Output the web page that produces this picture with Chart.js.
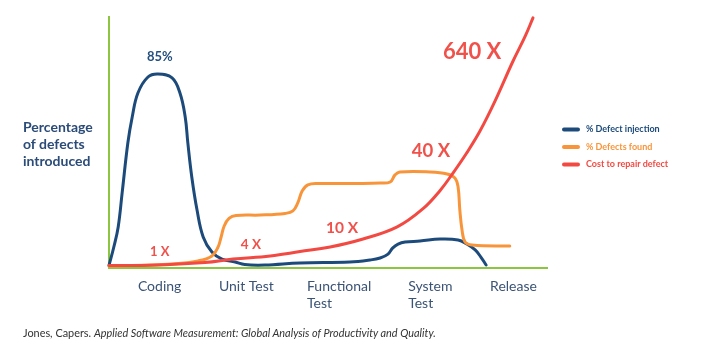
<!DOCTYPE html>
<html><head><meta charset="utf-8">
<script src="https://cdn.jsdelivr.net/npm/chart.js@4"></script>
<style>
html,body{margin:0;padding:0;background:#fff;}
#wrap{position:relative;width:708px;height:358px;overflow:hidden;font-family:Lato, "Open Sans", sans-serif;}
#chartBox{position:absolute;left:0;top:0;width:708px;height:358px;}
#ylabel{position:absolute;left:23px;top:118px;font-weight:700;font-size:14px;line-height:17px;color:#2b4b78;}
#source{position:absolute;left:23px;top:327px;font-size:10.9px;line-height:12px;color:#333;white-space:nowrap;}
</style></head><body>
<div id="wrap">
<div id="chartBox"><canvas id="c"></canvas></div>
<div id="ylabel">Percentage<br>of defects<br>introduced</div>
<div id="source">Jones, Capers. <i>Applied Software Measurement: Global Analysis of Productivity and Quality.</i></div>
</div>
<script>
// ---- data ----
const stageLabels = ['Coding', 'Unit Test', ['Functional', 'Test'], ['System', 'Test'], 'Release'];
const stagePositions = [6.6, 25.1, 45.2, 68.3, 87.0];

const seriesNames = ['% Defect injection', '% Defects found', 'Cost to repair defect'];

const injectX = [0, 1.1, 2.1, 3.0, 4.3, 5.3, 6.6, 8.9, 11.2, 14.4, 16.2, 17.4, 18.0, 18.9, 20.1, 21.5, 23.5, 25.8, 28.8, 31.0, 35.6, 43.6, 55.0, 59.6, 61.9, 63.7, 64.8, 66.0, 67.6, 71.0, 75.6, 79.7, 81.7, 83.6, 84.9, 86.1];
const injectY = [1.1, 9.2, 18.0, 32.9, 54.8, 66.2, 76.7, 83.7, 85.0, 83.3, 76.7, 66.2, 54.8, 39.9, 25.4, 13.6, 7.0, 3.9, 2.6, 1.5, 1.3, 2.2, 2.6, 3.5, 4.4, 6.1, 8.8, 10.5, 11.4, 11.8, 12.7, 12.3, 10.5, 7.9, 4.8, 1.3];

const foundX = [0, 9.4, 14.4, 20.3, 23.5, 24.9, 25.6, 26.3, 27.4, 29.0, 34.5, 40.2, 42.0, 43.1, 44.1, 45.4, 47.7, 57.3, 61.9, 64.2, 65.3, 66.4, 73.3, 77.2, 79.0, 79.7, 80.1, 80.6, 81.3, 82.9, 91.5];
const foundY = [0.9, 1.3, 1.8, 3.1, 5.3, 9.2, 13.6, 18.4, 21.7, 23.0, 23.2, 23.9, 25.0, 28.5, 33.7, 36.4, 37.0, 37.0, 37.2, 37.7, 40.8, 42.1, 42.1, 41.2, 39.4, 35.5, 25.4, 16.7, 11.4, 10.1, 9.6];

const costX = [0, 9.4, 21.9, 28.3, 36.8, 43.6, 50.5, 58.0, 65.8, 71.7, 75.6, 78.5, 81.7, 84.7, 88.1, 92.2, 95.0, 96.8];
const costY = [1.1, 1.2, 2.4, 3.9, 5.3, 7.2, 9.2, 12.7, 18.0, 26.0, 34.0, 41.5, 50.5, 60.0, 73.0, 90.5, 101.5, 109.6];

const noteText = ['85%', '1 X', '4 X', '10 X', '40 X', '640 X'];
const noteX = [11.6, 11.6, 32.4, 53.2, 73.5, 82.9];
const noteY = [92.5, 7.0, 10.1, 17.5, 51.3, 94.7];

// ---- styles ----
const colors = ['#1c4a7a', '#f8953a', '#f24a42'];
const noteStyle = [
  {size: 13, color: '#24507f'},
  {size: 13, color: '#f0524b'},
  {size: 13.5, color: '#f0524b'},
  {size: 15.5, color: '#f0524b'},
  {size: 18.5, color: '#f0524b'},
  {size: 22, color: '#f0524b'}
];
const axisGreen = '#8cc63f';

const zip = (xs, ys) => xs.map((x, i) => ({x, y: ys[i]}));

const notesPlugin = {
  id: 'notes',
  afterDatasetsDraw(chart) {
    const ctx = chart.ctx, xs = chart.scales.x, ys = chart.scales.y;
    noteText.forEach((t, i) => {
      ctx.save();
      ctx.font = '700 ' + noteStyle[i].size + 'px Lato, sans-serif';
      ctx.fillStyle = noteStyle[i].color;
      ctx.textAlign = 'center';
      ctx.textBaseline = 'middle';
      ctx.fillText(t, xs.getPixelForValue(noteX[i]), ys.getPixelForValue(noteY[i]));
      ctx.restore();
    });
  }
};

const sideLegend = {
  id: 'sideLegend',
  afterDraw(chart) {
    const ctx = chart.ctx, area = chart.chartArea;
    const rowY = [129.5, 147, 164.5];
    chart.data.datasets.forEach((ds, i) => {
      const y = rowY[i];
      ctx.save();
      ctx.strokeStyle = ds.borderColor;
      ctx.lineWidth = 4;
      ctx.lineCap = 'round';
      ctx.beginPath();
      ctx.moveTo(area.right + 17, y);
      ctx.lineTo(area.right + 31, y);
      ctx.stroke();
      ctx.fillStyle = ds.borderColor;
      ctx.font = '700 9px Lato, sans-serif';
      ctx.textBaseline = 'middle';
      ctx.textAlign = 'left';
      ctx.fillText(ds.label, area.right + 39, y);
      ctx.restore();
    });
  }
};

new Chart(document.getElementById('c'), {
  type: 'line',
  data: {
    datasets: [
      {label: seriesNames[0], data: zip(injectX, injectY), borderColor: colors[0], order: 2},
      {label: seriesNames[1], data: zip(foundX, foundY), borderColor: colors[1], order: 1},
      {label: seriesNames[2], data: zip(costX, costY), borderColor: colors[2], order: 0}
    ]
  },
  options: {
    responsive: true,
    maintainAspectRatio: false,
    animation: false,
    devicePixelRatio: 1,
    clip: false,
    layout: {padding: {left: 109, right: 161, top: 17, bottom: 0}},
    plugins: {legend: {display: false}, tooltip: {enabled: false}},
    elements: {
      point: {radius: 0},
      line: {borderWidth: 3, tension: 0.4, borderCapStyle: 'round', borderJoinStyle: 'round', fill: false, capBezierPoints: true}
    },
    scales: {
      x: {
        type: 'linear', min: 0, max: 100,
        grid: {display: false, drawTicks: false},
        border: {display: true, color: axisGreen, width: 2},
        afterBuildTicks: s => { s.ticks = stagePositions.map(v => ({value: v})); },
        afterFit: s => { s.height = 90; },
        ticks: {
          autoSkip: false, maxRotation: 0, minRotation: 0, align: 'start', padding: 10,
          color: '#3b5375', font: {family: 'Lato', size: 14},
          callback: (v, i) => stageLabels[i]
        }
      },
      y: {
        min: 0, max: 110,
        grid: {display: false, drawTicks: false},
        border: {display: true, color: axisGreen, width: 2},
        ticks: {display: false},
        afterFit: s => { s.width = 0; }
      }
    }
  },
  plugins: [notesPlugin, sideLegend]
});
</script>
</body></html>
